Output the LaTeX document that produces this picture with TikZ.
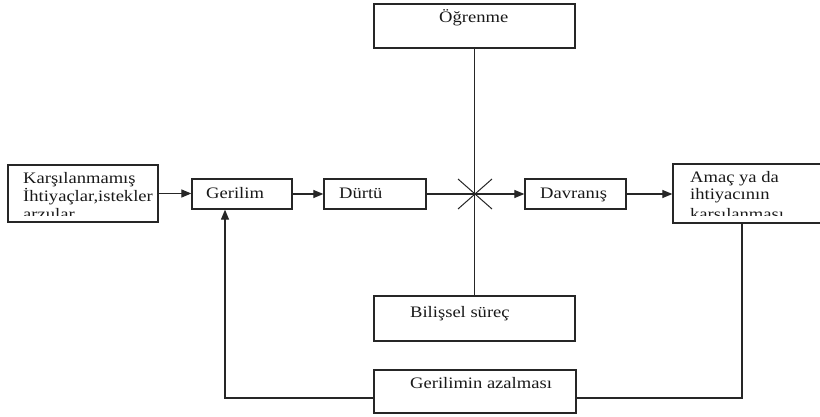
\documentclass[tikz,border=0pt]{standalone}
\usepackage{fontspec}
\setmainfont{Liberation Serif}[FakeStretch=1.16]
\usetikzlibrary{arrows.meta}
\begin{document}
\begin{tikzpicture}[x=1pt,y=-1pt,
 box/.style={draw=black!85, line width=1.3pt, inner sep=0pt},
 txt/.style={inner sep=0pt, anchor=base west, font=\fontsize{16}{17}\selectfont, text=black!90},
 conn/.style={draw=black!85, line width=1.2pt},
 arr/.style={conn, -{Triangle[length=10pt,width=8pt]}}]
\useasboundingbox (0,0) rectangle (820,417);
% boxes
\node[box, minimum width=150pt, minimum height=57pt] (k) at (83,193.5) {};
\node[box, minimum width=100pt, minimum height=30pt] (g) at (242,194) {};
\node[box, minimum width=102pt, minimum height=30pt] (d) at (375,194) {};
\node[box, minimum width=101pt, minimum height=30pt] (v) at (575.5,194) {};
\node[box, minimum width=149pt, minimum height=59pt] (a) at (747.5,193.5) {};
\node[box, minimum width=201pt, minimum height=44pt] (o) at (474.5,26) {};
\node[box, minimum width=201pt, minimum height=45pt] (b) at (474.5,318.5) {};
\node[box, minimum width=202pt, minimum height=43pt] (z) at (475,391.5) {};
% texts
\begin{scope}
\clip (8,165) rectangle (158,215.5);
\node[txt] (kt1) at (23,184) {Karşılanmamış};
\node[txt] (kt2) at (23,201) {İhtiyaçlar,istekler};
\node[txt] (kt3) at (23,219) {arzular};
\end{scope}
\begin{scope}
\clip (673,164) rectangle (822,215.5);
\node[txt] (at1) at (690,183) {Amaç ya da};
\node[txt] (at2) at (690,200) {ihtiyacının};
\node[txt] (at3) at (690,219) {karşılanması};
\end{scope}
\node[txt] (gt) at (206,199) {Gerilim};
\node[txt] (dt) at (339,199) {Dürtü};
\node[txt] (vt) at (540,199) {Davranış};
\node[txt] (ot) at (439,23) {Öğrenme};
\node[txt] (bt) at (410,317) {Bilişsel süreç};
\node[txt] (zt) at (410,388) {Gerilimin azalması};
% connectors
\draw[arr] (k.east) -- (k.east -| g.west);
\draw[arr] (g.east) -- (d.west);
\draw[arr] (d.east) -- (v.west);
\draw[arr] (v.east) -- (a.west |- v.east);
\draw[conn] (o.south) -- (b.north);
\coordinate (c1) at (458,179);
\coordinate (c2) at (492,209);
\coordinate (c3) at (458,209);
\coordinate (c4) at (492,179);
\draw[conn, line width=1pt] (c1) -- (c2);
\draw[conn, line width=1pt] (c3) -- (c4);
\coordinate (fr) at (742,398);
\coordinate (fl) at (225,398);
\draw[conn] (fr |- a.south) -- (fr) -- (fr -| z.east);
\draw[arr] (fl -| z.west) -- (fl) -- (fl |- g.south);
\end{tikzpicture}
\end{document}
